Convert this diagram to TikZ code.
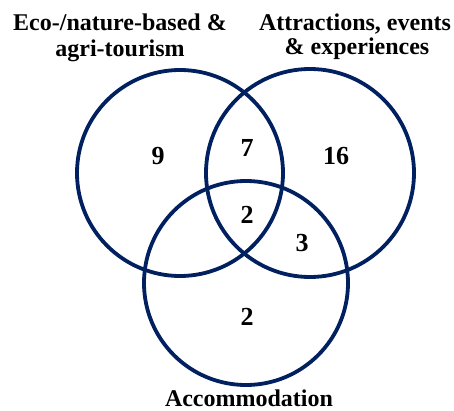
\documentclass[tikz,border=0pt]{standalone}
\usepackage{fontspec}
\setmainfont{Liberation Serif}
\definecolor{vennblue}{HTML}{002060}
\begin{document}
\begin{tikzpicture}[x=1pt,y=-1pt,
  ring/.style={draw=vennblue,line width=3.8pt},
  setlabel/.style={font=\fontsize{24}{26}\selectfont\bfseries,align=center,inner sep=0pt,anchor=base},
  count/.style={font=\fontsize{26}{28}\selectfont\bfseries,inner sep=0pt}]
\useasboundingbox (0,0) rectangle (454,411);
% circle centres
\coordinate (eco) at (180,173);
\coordinate (attr) at (310,173);
\coordinate (acc) at (246,283);
\draw[ring] (eco) circle[radius=103];
\draw[ring] (attr) circle[radius=104];
\draw[ring] (acc) circle[radius=102];
% set names
\node[setlabel] (econame1) at (120,31) {Eco-/nature-based \&};
\node[setlabel] (econame2) at (120,57) {agri-tourism};
\node[setlabel] (attrname1) at (355,31) {Attractions, events};
\node[setlabel] (attrname2) at (357,54.5) {\& experiences};
\node[setlabel] (accname) at (249,406) {Accommodation};
% region counts
\node[count] (n9) at (158,156) {9};
\node[count] (n7) at (247,148) {7};
\node[count] (n2c) at (247,215) {2};
\node[count] (n16) at (336,156) {16};
\node[count] (n3) at (302,243) {3};
\node[count] (n2b) at (247,317) {2};
\end{tikzpicture}
\end{document}
